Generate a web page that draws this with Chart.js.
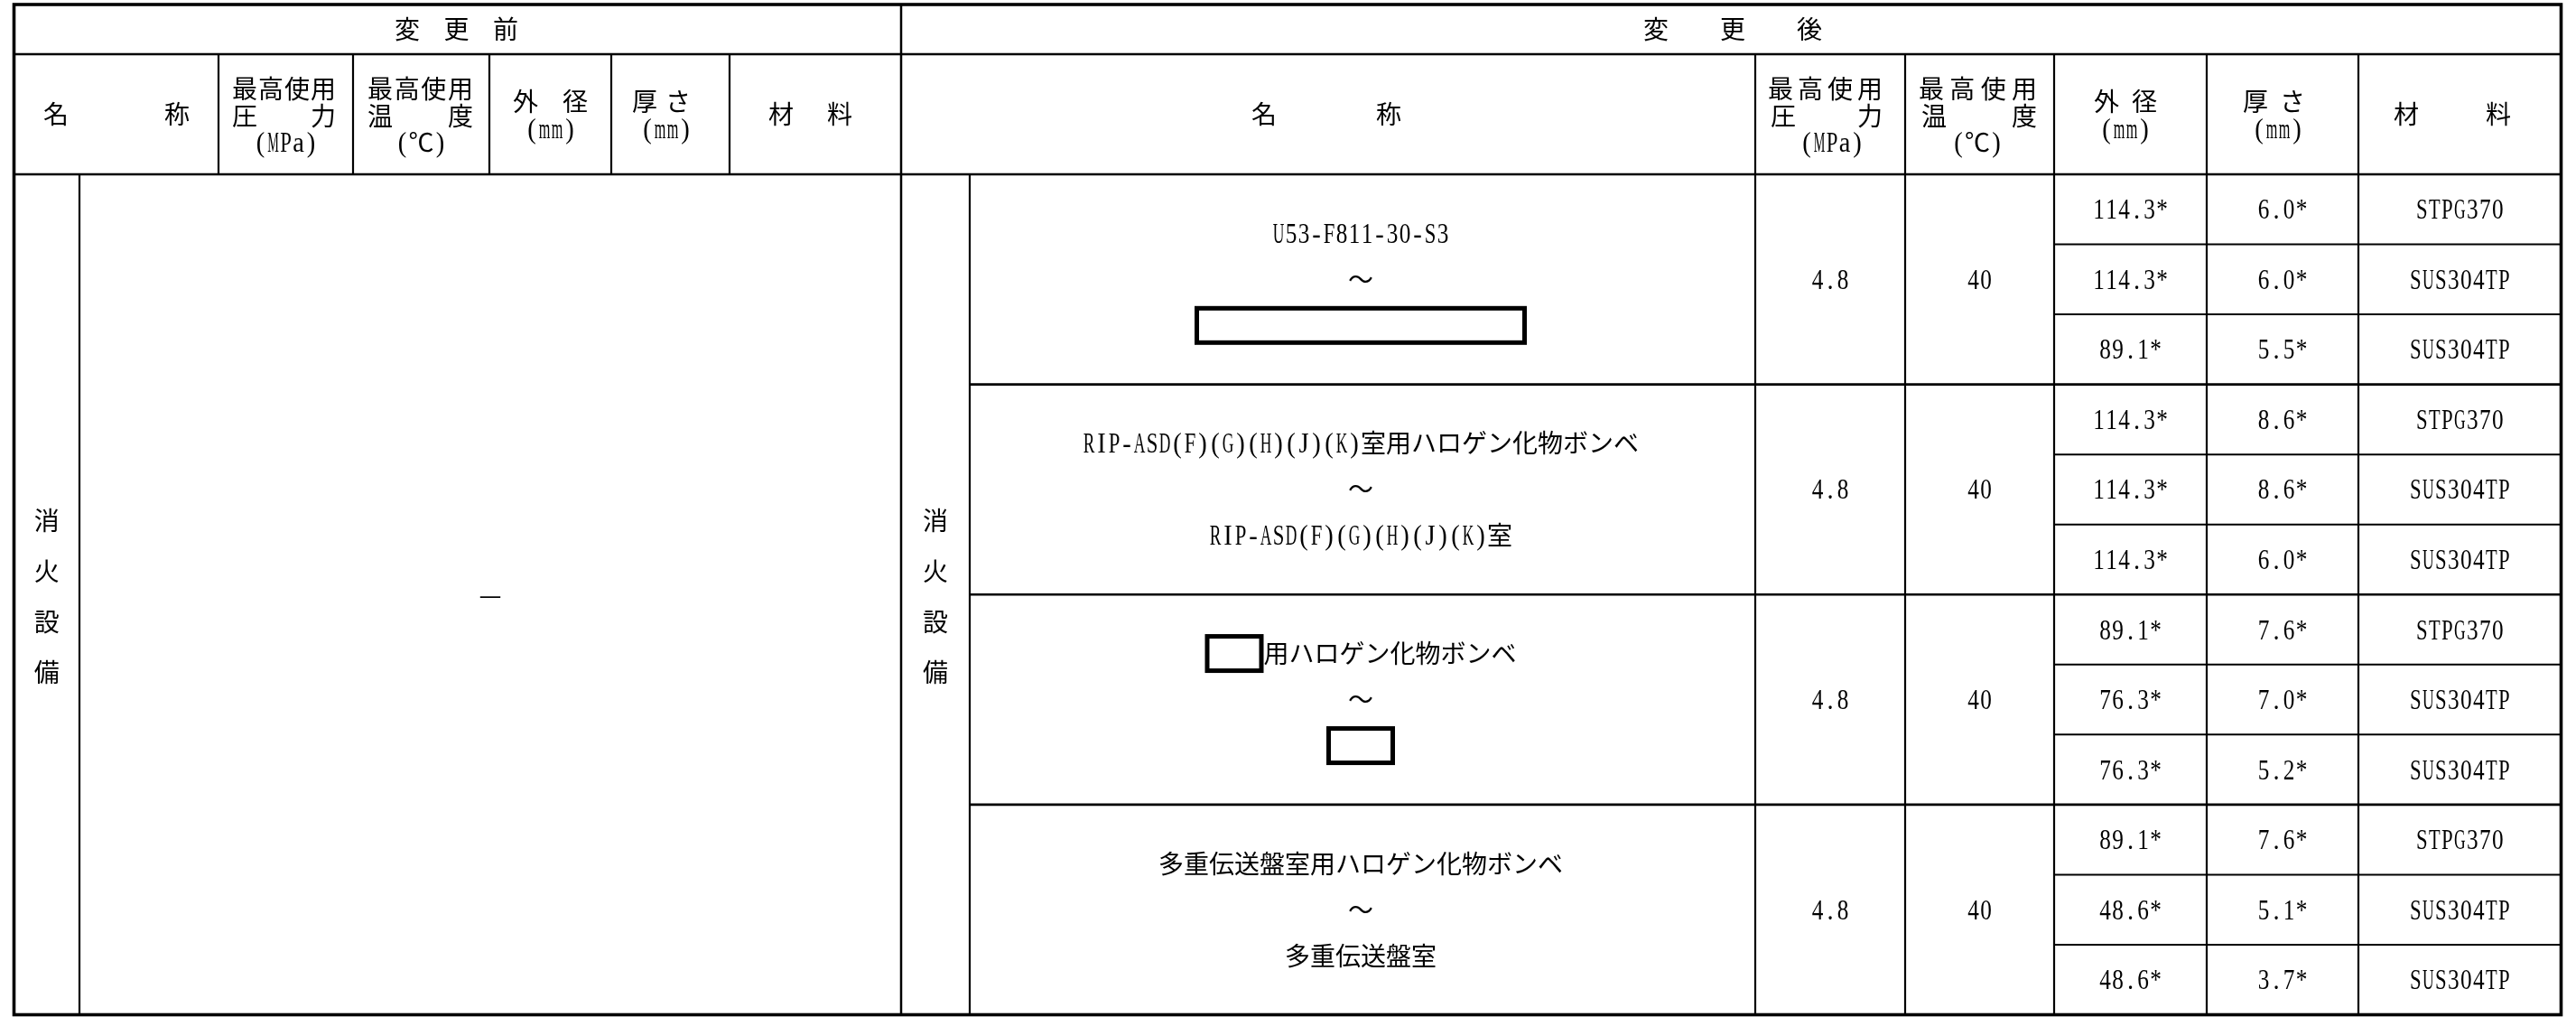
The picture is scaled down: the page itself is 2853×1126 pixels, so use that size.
<!DOCTYPE html>
<html>
<head>
<meta charset="utf-8">
<script src="https://cdn.jsdelivr.net/npm/chart.js@4.4.1/dist/chart.umd.min.js"></script>
<style>
html,body{margin:0;padding:0;background:#fff;overflow:hidden}
#wrap{width:2853px;height:1126px;position:relative}
</style>
</head>
<body>
<div id="wrap"><canvas id="c" width="2853" height="1126"></canvas></div>
<script>
// ---------------- data ----------------
const beforeTitle = "変更前";
const afterTitle = "変更後";
const systemName = "消火設備";
const beforeEntry = "—";
const headerName = "名称";
const headerPressure = ["最高使用", "圧力", "(MPa)"];
const headerTemp = ["最高使用", "温度", "(℃)"];
const headerOD = ["外径", "(mm)"];
const headerThick = ["厚さ", "(mm)"];
const headerMaterial = "材料";
// "■" marks a masked (boxed) part of the name
const routeFrom = ["U53-F811-30-S3", "RIP-ASD(F)(G)(H)(J)(K)室用ハロゲン化物ボンベ", "■用ハロゲン化物ボンベ", "多重伝送盤室用ハロゲン化物ボンベ"];
const routeTo = ["■", "RIP-ASD(F)(G)(H)(J)(K)室", "■", "多重伝送盤室"];
const pressure = [4.8, 4.8, 4.8, 4.8];
const temperature = [40, 40, 40, 40];
const outerDiameter = [[114.3, 114.3, 89.1], [114.3, 114.3, 114.3], [89.1, 76.3, 76.3], [89.1, 48.6, 48.6]];
const thickness = [[6.0, 6.0, 5.5], [8.6, 8.6, 6.0], [7.6, 7.0, 5.2], [7.6, 5.1, 3.7]];
const material = [["STPG370", "SUS304TP", "SUS304TP"], ["STPG370", "SUS304TP", "SUS304TP"], ["STPG370", "SUS304TP", "SUS304TP"], ["STPG370", "SUS304TP", "SUS304TP"]];

// ---------------- layout ----------------
const W = 2853, H = 1126;
const T = {
  left: 15.5, right: 2836.5, top: 5, bottom: 1123.5,
  row1: 60, row2: 193, mid: 998,
  leftHeadCols: [242, 391, 542, 677, 808],
  leftBodyCol: 88,
  rightNameCol: 1074,
  rightCols: [1944, 2110, 2275, 2444, 2612]
};
const maskBoxes = { from: [null, null, 65, null], to: [368, null, 76, null] };
const SLOT = 28;

const tablePlugin = {
  id: 'table',
  afterDraw(chart) {
    const ctx = chart.ctx;
    const X = v => chart.scales.x.getPixelForValue(v);
    const Y = v => chart.scales.y.getPixelForValue(v);
    const ink = '#000';

    function isHalf(ch) { const c = ch.codePointAt(0); return c < 0x2000 || (c >= 0xFF61 && c <= 0xFF9F); }

    function drawLine(str, cx, cy, opt) {
      opt = opt || {};
      const masks = (opt.masks || []).slice();
      const toks = [];
      for (const ch of Array.from(str)) {
        if (ch === '■') toks.push({ t: 'm', w: masks.shift() });
        else if (isHalf(ch)) toks.push({ t: 'l', w: SLOT / 2, ch });
        else toks.push({ t: 'c', w: SLOT, ch });
      }
      const total = toks.reduce((s, k) => s + k.w, 0);
      let x, gap = 0;
      if (opt.span && toks.length > 1) {
        x = opt.span[0];
        gap = (opt.span[1] - opt.span[0] - total) / (toks.length - 1);
      } else {
        x = cx - total / 2;
      }
      ctx.fillStyle = ink;
      ctx.strokeStyle = '#000';
      ctx.textAlign = 'center';
      ctx.textBaseline = 'alphabetic';
      for (const k of toks) {
        const px = X(x + k.w / 2);
        if (k.t === 'm') {
          ctx.lineWidth = 5;
          ctx.strokeRect(X(x) + 2.5, Y(cy) - 21.5 + 2.5, k.w - 5, 43 - 5);
        } else if (k.t === 'l') {
          ctx.font = '31px "Liberation Serif", serif';
          const m = ctx.measureText(k.ch).width;
          const maxw = SLOT / 2 * 0.98;
          const sx = m > maxw ? maxw / m : (m > 12 ? 1 : 1);
          ctx.save();
          ctx.translate(px, Y(cy) + 10.5);
          ctx.scale(sx * 0.92, 1);
          ctx.fillText(k.ch, 0, 0);
          ctx.restore();
        } else {
          ctx.font = '28px "Noto Sans CJK JP", sans-serif';
          ctx.fillText(k.ch, px, Y(cy) + 10.5);
        }
        x += k.w + gap;
      }
    }

    function line(x0, y0, x1, y1, w) {
      ctx.lineWidth = w;
      ctx.beginPath();
      ctx.moveTo(X(x0), Y(y0));
      ctx.lineTo(X(x1), Y(y1));
      ctx.stroke();
    }

    ctx.save();
    ctx.strokeStyle = '#000';
    ctx.lineCap = 'butt';
    // inner lines
    line(T.left, T.row1, T.right, T.row1, 2.5);
    line(T.left, T.row2, T.right, T.row2, 2.5);
    line(T.mid, T.top, T.mid, T.bottom, 2.5);
    for (const c of T.leftHeadCols) line(c, T.row1, c, T.row2, 2.2);
    line(T.leftBodyCol, T.row2, T.leftBodyCol, T.bottom, 2.2);
    line(T.rightNameCol, T.row2, T.rightNameCol, T.bottom, 2.2);
    for (const c of T.rightCols) line(c, T.row1, c, T.bottom, 2.2);
    const nG = pressure.length;
    const gH = (T.bottom - T.row2) / nG;
    for (let g = 1; g < nG; g++) line(T.rightNameCol, T.row2 + g * gH, T.right, T.row2 + g * gH, 2.6);
    for (let g = 0; g < nG; g++) {
      const n = outerDiameter[g].length;
      for (let r = 1; r < n; r++) {
        const y = T.row2 + g * gH + r * gH / n;
        line(T.rightCols[2], y, T.right, y, 2);
      }
    }
    // outer border
    ctx.lineWidth = 3.6;
    ctx.strokeRect(X(T.left), Y(T.top), X(T.right) - X(T.left), Y(T.bottom) - Y(T.top));

    // row 1 titles
    const r1 = (T.top + T.row1) / 2;
    drawLine(beforeTitle, 0, r1, { span: [437, 574] });
    drawLine(afterTitle, 0, r1, { span: [1820, 2018] });

    // row 2 headers
    const r2 = (T.row1 + T.row2) / 2;
    const L3 = [r2 - 28, r2 + 1.5, r2 + 30.5];
    const L2 = [r2 - 14, r2 + 16];
    // left
    drawLine(headerName, 0, r2, { span: [48, 210] });
    drawLine(headerPressure[0], 0, L3[0], { span: [257, 372] });
    drawLine(headerPressure[1], 0, L3[1], { span: [257, 372] });
    drawLine(headerPressure[2], 316.5, L3[2]);
    drawLine(headerTemp[0], 0, L3[0], { span: [407, 524] });
    drawLine(headerTemp[1], 0, L3[1], { span: [407, 524] });
    drawLine(headerTemp[2], 466.5, L3[2]);
    drawLine(headerOD[0], 0, L2[0], { span: [568, 651] });
    drawLine(headerOD[1], 610, L2[1]);
    drawLine(headerThick[0], 0, L2[0], { span: [700, 765] });
    drawLine(headerThick[1], 738, L2[1]);
    drawLine(headerMaterial, 0, r2, { span: [851, 944] });
    // right
    drawLine(headerName, 0, r2, { span: [1386, 1552] });
    drawLine(headerPressure[0], 0, L3[0], { span: [1958, 2085] });
    drawLine(headerPressure[1], 0, L3[1], { span: [1961, 2085] });
    drawLine(headerPressure[2], 2029, L3[2]);
    drawLine(headerTemp[0], 0, L3[0], { span: [2125, 2256] });
    drawLine(headerTemp[1], 0, L3[1], { span: [2128, 2256] });
    drawLine(headerTemp[2], 2190, L3[2]);
    drawLine(headerOD[0], 0, L2[0], { span: [2319, 2389] });
    drawLine(headerOD[1], 2354, L2[1]);
    drawLine(headerThick[0], 0, L2[0], { span: [2484, 2553] });
    drawLine(headerThick[1], 2523, L2[1]);
    drawLine(headerMaterial, 0, r2, { span: [2651, 2781] });

    // body
    const bodyMid = (T.row2 + T.bottom) / 2 + 2;
    const sysChars = Array.from(systemName);
    sysChars.forEach((ch, i) => {
      const y = bodyMid + (i - (sysChars.length - 1) / 2) * 56;
      drawLine(ch, (T.left + T.leftBodyCol) / 2, y);
      drawLine(ch, (T.mid + T.rightNameCol) / 2, y);
    });
    drawLine(beforeEntry, (T.leftBodyCol + T.mid) / 2, bodyMid - 2);

    const nameCx = 1507;
    const cPress = (T.rightCols[0] + T.rightCols[1]) / 2;
    const cTemp = (T.rightCols[1] + T.rightCols[2]) / 2;
    const cOD = (T.rightCols[2] + T.rightCols[3]) / 2;
    const cTh = (T.rightCols[3] + T.rightCols[4]) / 2;
    const cMat = (T.rightCols[4] + T.right) / 2;
    for (let g = 0; g < nG; g++) {
      const y0 = T.row2 + g * gH;
      const gc = y0 + gH / 2;
      drawLine(routeFrom[g], nameCx, gc - 51, { masks: [maskBoxes.from[g]] });
      drawLine("〜", nameCx, gc);
      drawLine(routeTo[g], nameCx, gc + 51, { masks: [maskBoxes.to[g]] });
      drawLine(pressure[g].toFixed(1), cPress, gc);
      drawLine(String(temperature[g]), cTemp, gc);
      const n = outerDiameter[g].length;
      for (let r = 0; r < n; r++) {
        const yc = y0 + (r + 0.5) * gH / n;
        drawLine(outerDiameter[g][r].toFixed(1) + "*", cOD, yc);
        drawLine(thickness[g][r].toFixed(1) + "*", cTh, yc);
        drawLine(material[g][r], cMat, yc);
      }
    }
    ctx.restore();
  }
};

new Chart(document.getElementById('c'), {
  type: 'scatter',
  data: { datasets: [{ data: [], pointRadius: 0 }] },
  options: {
    responsive: false,
    animation: false,
    devicePixelRatio: 1,
    layout: { padding: 0 },
    plugins: { legend: { display: false }, tooltip: { enabled: false } },
    scales: {
      x: { type: 'linear', min: 0, max: W, display: false },
      y: { type: 'linear', min: 0, max: H, reverse: true, display: false }
    }
  },
  plugins: [tablePlugin]
});
</script>
</body>
</html>
